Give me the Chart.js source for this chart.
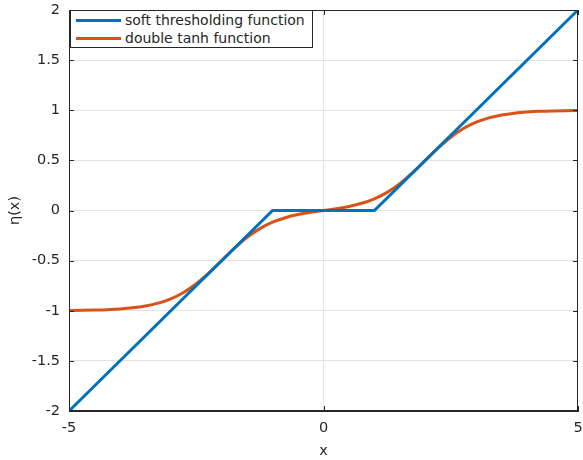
<!DOCTYPE html>
<html>
<head>
<meta charset="utf-8">
<script src="https://cdn.jsdelivr.net/npm/chart.js@4/dist/chart.umd.min.js"></script>
<style>
  html, body { margin: 0; padding: 0; background: #fff; }
  #wrap { position: relative; width: 583px; height: 460px; }
  #legend {
    position: absolute; left: 70px; top: 10px; width: 241px; height: 36px;
    border: 1px solid #262626; background: #fff;
    font: 14px "DejaVu Sans", sans-serif; color: #262626;
  }
  #legend .row { position: absolute; left: 0; height: 18px; line-height: 18px; white-space: nowrap; }
  #legend .swatch { position: absolute; left: 5px; top: 8px; width: 45px; height: 3px; }
  #legend .label { position: absolute; left: 54px; top: 0; }
</style>
</head>
<body>
<div id="wrap">
  <canvas id="chart" width="583" height="460"></canvas>
  <div id="legend">
    <div class="row" style="top:0px"><span class="swatch" style="background:#0072BD"></span><span class="label">soft thresholding function</span></div>
    <div class="row" style="top:18px"><span class="swatch" style="background:#D95319"></span><span class="label">double tanh function</span></div>
  </div>
</div>
<script>
// --- DADOS ---
const softX = [-5, -1, 1, 5];
const softY = [-2, 0, 0, 2];

const tanhX = [
  -5, -4.75, -4.5, -4.25, -4, -3.75, -3.5, -3.25, -3, -2.75, -2.5, -2.25, -2, -1.75, -1.5, -1.25, -1, -0.75, -0.5, -0.25,
  0, 0.25, 0.5, 0.75, 1, 1.25, 1.5, 1.75, 2, 2.25, 2.5, 2.75, 3, 3.25, 3.5, 3.75, 4, 4.25, 4.5, 4.75, 5,
];
const tanhY = [
  -0.9975, -0.996, -0.9933, -0.989, -0.982, -0.9707, -0.9525, -0.9241, -0.8808, -0.8175, -0.7309, -0.6222, -0.4997,
  -0.377, -0.2681, -0.181, -0.1168, -0.0718, -0.0408, -0.0183,
  0, 0.0183, 0.0408, 0.0718, 0.1168, 0.181, 0.2681, 0.377, 0.4997, 0.6222, 0.7309, 0.8175, 0.8808, 0.9241, 0.9525,
  0.9707, 0.982, 0.989, 0.9933, 0.996, 0.9975,
];

const xTicks = [-5, 0, 5];
const yTicks = [-2, -1.5, -1, -0.5, 0, 0.5, 1, 1.5, 2];

const toPoints = (xs, ys) => xs.map((x, i) => ({ x: x, y: ys[i] }));

const axisColor = '#262626';
const tickFont = { family: 'DejaVu Sans', size: 14.5 };

// caixa e marcas internas (estilo MATLAB)
const boxPlugin = {
  id: 'box',
  afterDraw(chart) {
    const { ctx, chartArea: a, scales } = chart;
    ctx.save();
    ctx.strokeStyle = axisColor;
    ctx.lineWidth = 1;
    ctx.strokeRect(a.left + 0.5, a.top + 0.5, a.right - a.left - 1, a.bottom - a.top - 1);
    ctx.beginPath();
    yTicks.forEach((v) => {
      const y = Math.round(scales.y.getPixelForValue(v)) + 0.5;
      ctx.moveTo(a.left, y); ctx.lineTo(a.left + 5, y);
      ctx.moveTo(a.right, y); ctx.lineTo(a.right - 5, y);
    });
    xTicks.forEach((v) => {
      const x = Math.round(scales.x.getPixelForValue(v)) + 0.5;
      ctx.moveTo(x, a.bottom); ctx.lineTo(x, a.bottom - 5);
      ctx.moveTo(x, a.top); ctx.lineTo(x, a.top + 5);
    });
    ctx.stroke();
    ctx.restore();
  },
};

new Chart(document.getElementById('chart'), {
  type: 'line',
  data: {
    datasets: [
      {
        label: 'soft thresholding function',
        data: toPoints(softX, softY),
        borderColor: '#0072BD',
        borderWidth: 3,
        pointRadius: 0,
        tension: 0,
      },
      {
        label: 'double tanh function',
        data: toPoints(tanhX, tanhY),
        borderColor: '#D95319',
        borderWidth: 3,
        pointRadius: 0,
        cubicInterpolationMode: 'monotone',
      },
    ],
  },
  options: {
    responsive: false,
    animation: false,
    layout: { padding: { top: 10, right: 5, left: 0, bottom: 0 } },
    plugins: { legend: { display: false }, tooltip: { enabled: false } },
    scales: {
      x: {
        type: 'linear',
        min: -5,
        max: 5,
        afterFit: (s) => { s.height = 49; s.paddingLeft = 0; s.paddingRight = 0; },
        afterBuildTicks: (s) => { s.ticks = xTicks.map((v) => ({ value: v })); },
        ticks: { color: axisColor, font: tickFont, padding: 9, maxRotation: 0, callback: (v) => String(v) },
        grid: {
          drawTicks: false,
          color: (c) => (c.tick && c.tick.value === 0 ? '#e3e3e3' : 'rgba(0,0,0,0)'),
        },
        border: { display: true, color: axisColor },
        title: { display: true, text: 'x', color: axisColor, font: tickFont, padding: { top: 0, bottom: 0 } },
      },
      y: {
        min: -2,
        max: 2,
        afterFit: (s) => { s.width = 69; s.paddingTop = 0; s.paddingBottom = 0; },
        afterBuildTicks: (s) => { s.ticks = yTicks.map((v) => ({ value: v })); },
        ticks: { color: axisColor, font: tickFont, padding: 9, callback: (v) => String(v) },
        grid: { drawTicks: false, color: '#e3e3e3' },
        border: { display: true, color: axisColor },
        title: { display: true, text: 'η(x)', color: axisColor, font: tickFont, padding: { top: 7, bottom: 0 } },
      },
    },
  },
  plugins: [boxPlugin],
});
</script>
</body>
</html>
